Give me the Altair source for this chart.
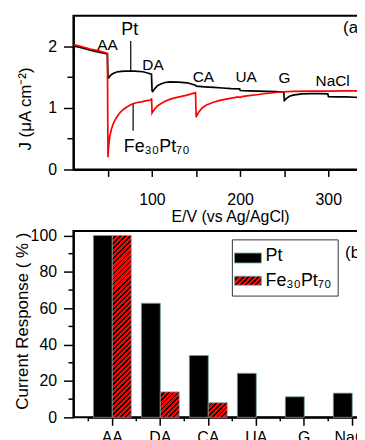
import altair as alt
import pandas as pd

# ---------------- panel (a) data ----------------
pt_E = [11, 20, 30, 40, 49.5, 50.2, 51, 53, 56, 60, 65, 70, 80, 90, 95, 99.5, 100.2, 101, 103, 106,
        110, 115, 120, 130, 140, 149.5, 150.2, 160, 170, 180, 190, 199.5, 200.2, 210, 220, 230, 240,
        249.5, 250.2, 251, 253, 256, 260, 270, 280, 290, 299.5, 300.2, 310, 320, 330, 345]
pt_J = [2.01, 1.98, 1.94, 1.91, 1.88, 1.50, 1.49, 1.53, 1.56, 1.585, 1.595, 1.60, 1.60, 1.59, 1.57,
        1.55, 1.28, 1.27, 1.31, 1.36, 1.39, 1.415, 1.425, 1.42, 1.41, 1.37, 1.355, 1.345, 1.335,
        1.325, 1.315, 1.31, 1.285, 1.28, 1.275, 1.27, 1.265, 1.26, 1.12, 1.13, 1.16, 1.19, 1.21,
        1.23, 1.235, 1.235, 1.23, 1.185, 1.18, 1.18, 1.175, 1.17]

fe_E = [11, 20, 30, 40, 49.5, 50.2, 50.8, 52, 54, 56, 58, 61, 64, 68, 72, 77, 82, 88, 94, 99, 99.6,
        100.2, 101, 103, 106, 110, 115, 120, 125, 131, 140, 149.5, 150.2, 151, 153, 157, 162, 169,
        176, 184, 192, 198, 200, 202, 210, 221, 232, 245, 260, 280, 300, 320, 345]
fe_J = [2.03, 2.0, 1.96, 1.93, 1.89, 0.2, 0.35, 0.52, 0.65, 0.74, 0.8, 0.87, 0.93, 0.98, 1.02, 1.06,
        1.085, 1.1, 1.12, 1.13, 1.16, 0.92, 0.94, 0.98, 1.03, 1.07, 1.11, 1.14, 1.16, 1.18, 1.21,
        1.25, 0.85, 0.88, 0.93, 1.0, 1.05, 1.09, 1.12, 1.145, 1.165, 1.18, 1.17, 1.185, 1.2, 1.22,
        1.24, 1.26, 1.27, 1.275, 1.275, 1.28, 1.28]

ann_text = ["AA", "DA", "CA", "UA", "G", "NaCl"]
ann_E = [49.6, 101.2, 158.4, 206.8, 250.3, 305]
ann_J = [1.95, 1.62, 1.42, 1.42, 1.41, 1.355]

big_text = ["Pt"]
big_E = [74.9]
big_J = [2.19]

fe_label = ["Fe₃₀Pt₇₀"]
fe_label_E = [68.1]
fe_label_J = [0.28]

ptr_E = [76, 78.7]
ptr_J1 = [2.09, 1.06]
ptr_J2 = [1.60, 0.63]

x_ticks_a = [50, 100, 150, 200, 250, 300]
y_ticks_a = [0, 1, 2]
y_minor_a = [0.5, 1.5]

# ---------------- panel (b) data ----------------
categories = ["AA", "DA", "CA", "UA", "G", "NaCl"]
pt_resp = [100, 62.7, 34, 24.2, 11.3, 13.3]
fe_resp = [100, 14.0, 8.0, 0, 0, 0]
y_ticks_b = [0, 20, 40, 60, 80, 100]
y_minor_b = [10, 30, 50, 70, 90]
legend_labels = ["Pt", "Fe₃₀Pt₇₀"]

# ---------------- styling ----------------
FONT = "Liberation Sans"
W = 297
HA = 155
HB = 188
STEP = 48.4
PAD_OUT = 0.27
EDGE = "#6e9e9e"
YMAX_B = 102.5


def hatch(w, h, period=5.0, dark=0.38):
    n = max(1, round((w + h) / period))
    k = (w + h) / (w * w + h * h)
    stops = []
    for i in range(n):
        a = i / n
        b = (i + 1 - dark) / n
        c = (i + 1) / n
        stops += [{"offset": a, "color": "#ff0000"}, {"offset": b, "color": "#ff0000"},
                  {"offset": b, "color": "#000000"}, {"offset": c, "color": "#000000"}]
    return {"gradient": "linear", "x1": 0, "y1": 0, "x2": w * k, "y2": h * k, "stops": stops}


# ---------------- panel (a) ----------------
xa = alt.Scale(domain=[11, 345], nice=False, zero=False)
ya = alt.Scale(domain=[0, 2.5], nice=False)
x_axis_a = alt.Axis(values=x_ticks_a, labelExpr="datum.value % 100 == 0 ? datum.label : ''",
                    tickSize=7, labelPadding=15, title="E/V (vs Ag/AgCl)", titlePadding=1,
                    titleX=158, titleFontSize=16)
y_axis_a = alt.Axis(values=y_ticks_a, tickSize=10, labelPadding=7, title="J (μA cm⁻²)",
                    titleX=-43.5, titleY=93.5, titleBaseline="alphabetic", titleFontSize=17)
XA = alt.X("E:Q", scale=xa, axis=x_axis_a)
YA = alt.Y("J:Q", scale=ya, axis=y_axis_a)

line_pt = alt.Chart(pd.DataFrame({"E": pt_E, "J": pt_J})).mark_line(
    color="black", strokeWidth=1.7, clip=True).encode(x=XA, y=YA)
line_fe = alt.Chart(pd.DataFrame({"E": fe_E, "J": fe_J})).mark_line(
    color="#ff0000", strokeWidth=1.7, clip=True).encode(x=XA, y=YA)
ptr = alt.Chart(pd.DataFrame({"E": ptr_E, "J": ptr_J1, "J2": ptr_J2})).mark_rule(
    color="black", strokeWidth=1.2).encode(x=XA, y=YA, y2="J2:Q")
lab_small = alt.Chart(pd.DataFrame({"E": ann_E, "J": ann_J, "t": ann_text})).mark_text(
    font=FONT, fontSize=15.5, baseline="alphabetic", align="center", color="black").encode(
    x=XA, y=YA, text="t:N")
lab_big = alt.Chart(pd.DataFrame({"E": big_E, "J": big_J, "t": big_text})).mark_text(
    font=FONT, fontSize=18, baseline="alphabetic", align="center", color="black").encode(
    x=XA, y=YA, text="t:N")
lab_fe = alt.Chart(pd.DataFrame({"E": fe_label_E, "J": fe_label_J, "t": fe_label})).mark_text(
    font=FONT, fontSize=18, baseline="alphabetic", align="left", color="black").encode(
    x=XA, y=YA, text="t:N")
minor_a = alt.Chart(pd.DataFrame({"J": y_minor_a})).mark_rule(
    color="black", strokeWidth=1.5).encode(y=YA, x=alt.value(-6), x2=alt.value(0))
tag_a = alt.Chart(pd.DataFrame({"t": ["(a)"]})).mark_text(
    font=FONT, fontSize=17, baseline="alphabetic", align="left", color="black").encode(
    x=alt.value(272), y=alt.value(17.7), text="t:N")

panel_a = alt.layer(line_pt, line_fe, ptr, lab_small, lab_big, lab_fe, minor_a, tag_a).properties(
    width=W, height=HA)

# ---------------- panel (b) ----------------
df_b = pd.DataFrame({"cat": categories * 2, "series": ["Pt"] * 6 + ["Fe"] * 6,
                     "val": pt_resp + fe_resp})
xb = alt.Scale(domain=categories, range=[15, 15 + 6 * STEP], paddingInner=0, paddingOuter=0)
xo = alt.Scale(domain=["Pt", "Fe"], paddingInner=0, paddingOuter=PAD_OUT)
yb = alt.Scale(domain=[0, YMAX_B], nice=False)
x_axis_b = alt.Axis(title=None, tickSize=8, labelPadding=4, labelAngle=0)
y_axis_b = alt.Axis(values=y_ticks_b, tickSize=10, labelPadding=7, title="Current Response ( % )",
                    titleX=-46.3, titleY=90.5, titleBaseline="alphabetic", titleFontSize=17)
XB = alt.X("cat:N", scale=xb, axis=x_axis_b, sort=categories)
XO = alt.XOffset("series:N", scale=xo, sort=["Pt", "Fe"])
YB = alt.Y("val:Q", scale=yb, axis=y_axis_b)

bar_w = STEP / (2 + 2 * PAD_OUT)
px_per_unit = HB / YMAX_B

layers_b = [
    alt.Chart(df_b).transform_filter("datum.series == 'Pt'").mark_bar(
        fill="black", stroke=EDGE, strokeWidth=0.8).encode(x=XB, xOffset=XO, y=YB)
]
for c, v in zip(categories, fe_resp):
    if v > 0:
        layers_b.append(
            alt.Chart(df_b).transform_filter(f"datum.series == 'Fe' && datum.cat == '{c}'").mark_bar(
                fill=hatch(bar_w, v * px_per_unit), stroke=EDGE, strokeWidth=0.8).encode(
                x=XB, xOffset=XO, y=YB))

minor_xb = alt.Chart(pd.DataFrame({"cat": categories})).mark_rule(
    color="black", strokeWidth=1.5).encode(
    x=alt.X("cat:N", scale=xb, axis=x_axis_b, sort=categories, bandPosition=0),
    y=alt.value(HB), y2=alt.value(HB + 4))
minor_yb = alt.Chart(pd.DataFrame({"val": y_minor_b})).mark_rule(
    color="black", strokeWidth=1.5).encode(y=YB, x=alt.value(-5), x2=alt.value(0))

one = pd.DataFrame({"t": [legend_labels[0]]})
two = pd.DataFrame({"t": [legend_labels[1]]})
leg_box = alt.Chart(one).mark_rect(fill="white", stroke="#333333", strokeWidth=1).encode(
    x=alt.value(160.3), x2=alt.value(267), y=alt.value(9), y2=alt.value(65.7))
leg_pt = alt.Chart(one).mark_rect(fill="black", stroke=EDGE, strokeWidth=0.8).encode(
    x=alt.value(162.5), x2=alt.value(189.5), y=alt.value(22.3), y2=alt.value(32.3))
leg_fe = alt.Chart(two).mark_rect(fill=hatch(27, 9), stroke=EDGE, strokeWidth=0.8).encode(
    x=alt.value(162.5), x2=alt.value(189.5), y=alt.value(45.7), y2=alt.value(54.7))
leg_t1 = alt.Chart(one).mark_text(font=FONT, fontSize=18, baseline="alphabetic", align="left",
                                  color="black").encode(
    x=alt.value(193.7), y=alt.value(30.7), text="t:N")
leg_t2 = alt.Chart(two).mark_text(font=FONT, fontSize=18, baseline="alphabetic", align="left",
                                  color="black").encode(
    x=alt.value(193.7), y=alt.value(55.7), text="t:N")
tag_b = alt.Chart(pd.DataFrame({"t": ["(b)"]})).mark_text(
    font=FONT, fontSize=17, baseline="alphabetic", align="left", color="black").encode(
    x=alt.value(274), y=alt.value(27), text="t:N")

panel_b = alt.layer(*layers_b, minor_xb, minor_yb, leg_box, leg_pt, leg_fe, leg_t1, leg_t2,
                    tag_b).properties(width=W, height=HB)

chart = alt.vconcat(panel_a, panel_b, spacing=1).resolve_scale(
    x="independent", y="independent").properties(
    padding={"left": 4, "top": 5, "right": -14, "bottom": -8}
).configure_view(stroke="black", strokeWidth=2).configure_axis(
    domainColor="black", domainWidth=2, tickColor="black", tickWidth=1.5,
    labelFont=FONT, labelFontSize=16, labelColor="black",
    titleFont=FONT, titleFontWeight="normal", titleColor="black", grid=False)

chart.save("out.html", embed_options={"renderer": "svg", "actions": False})
